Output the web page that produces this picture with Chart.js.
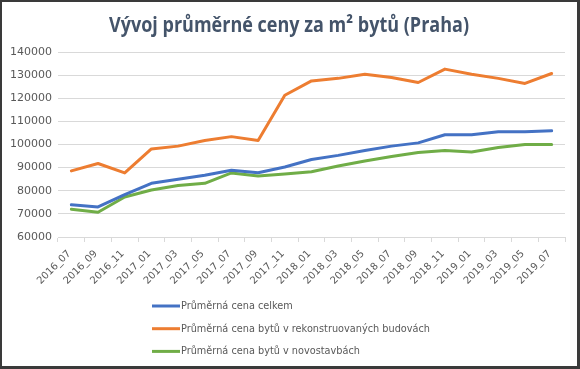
<!DOCTYPE html>
<html>
<head>
<meta charset="utf-8">
<script src="https://cdn.jsdelivr.net/npm/chart.js@4/dist/chart.umd.min.js"></script>
<style>
  html, body { margin: 0; padding: 0; background: #fff; }
  #wrap { position: relative; width: 580px; height: 369px; }
  #frame { position: absolute; left: 0; top: 0; width: 580px; height: 369px; box-sizing: border-box; border: 2px solid #3a3a3a; border-right-width: 3px; border-bottom-width: 3px; pointer-events: none; }
</style>
</head>
<body>
<div id="wrap">
  <canvas id="c" width="580" height="369"></canvas>
  <div id="frame"></div>
</div>
<script>
const chartTitle = "Vývoj průměrné ceny za m² bytů (Praha)";
const categories = ["2016_07","2016_09","2016_11","2017_01","2017_03","2017_05","2017_07","2017_09","2017_11",
  "2018_01","2018_03","2018_05","2018_07","2018_09","2018_11","2019_01","2019_03","2019_05","2019_07"];
const seriesNames = ["Průměrná cena celkem", "Průměrná cena bytů v rekonstruovaných budovách", "Průměrná cena bytů v novostavbách"];
const celkem = [73900, 73000, 78300, 83200, 85000, 86700, 88900, 87800, 90300,
  93500, 95300, 97400, 99300, 100700, 104200, 104200, 105500, 105500, 105900];
const rekonstrukce = [88600, 91800, 87700, 98100, 99300, 101700, 103400, 101700, 121300,
  127500, 128600, 130400, 129000, 126800, 132600, 130400, 128600, 126400, 130700];
const novostavby = [72000, 70700, 77300, 80300, 82300, 83200, 87700, 86400, 87200,
  88200, 90700, 92900, 94800, 96500, 97400, 96800, 98700, 100000, 100000];
const yTicks = [60000, 70000, 80000, 90000, 100000, 110000, 120000, 130000, 140000];
const colors = ["#4472C4", "#ED7D31", "#70AD47"];

const titlePlugin = {
  id: 'customTitle',
  afterDraw(chart) {
    const ctx = chart.ctx;
    ctx.save();
    ctx.font = 'bold 21px "Open Sans"';
    ctx.fillStyle = '#44546A';
    ctx.textAlign = 'center';
    ctx.textBaseline = 'alphabetic';
    const w = ctx.measureText(chartTitle).width;
    const sx = 360 / w;
    ctx.translate(289, 32);
    ctx.scale(sx, 1);
    ctx.fillText(chartTitle, 0, 0);
    ctx.restore();
  }
};

const legendPlugin = {
  id: 'customLegend',
  afterDraw(chart) {
    const ctx = chart.ctx;
    ctx.save();
    ctx.font = '11px "DejaVu Sans"';
    ctx.fillStyle = '#595959';
    ctx.textBaseline = 'middle';
    const longest = ctx.measureText(seriesNames[1]).width;
    const sx = 249 / longest;
    chart.data.datasets.forEach((ds, i) => {
      const y = 306 + i * 22.7;
      ctx.strokeStyle = ds.borderColor;
      ctx.lineWidth = 3;
      ctx.beginPath();
      ctx.moveTo(152, y);
      ctx.lineTo(180, y);
      ctx.stroke();
      ctx.save();
      ctx.translate(181, y);
      ctx.scale(sx, 1);
      ctx.fillText(ds.label, 0, 0);
      ctx.restore();
    });
    ctx.restore();
  }
};

new Chart(document.getElementById('c'), {
  type: 'line',
  data: {
    labels: categories,
    datasets: [
      { label: seriesNames[0], data: celkem, borderColor: colors[0], backgroundColor: colors[0] },
      { label: seriesNames[1], data: rekonstrukce, borderColor: colors[1], backgroundColor: colors[1] },
      { label: seriesNames[2], data: novostavby, borderColor: colors[2], backgroundColor: colors[2] }
    ]
  },
  options: {
    responsive: false,
    animation: false,
    layout: { padding: { left: 0, right: 15, top: 52, bottom: 80 } },
    elements: {
      line: { borderWidth: 3, tension: 0, borderCapStyle: 'round', borderJoinStyle: 'round' },
      point: { radius: 0 }
    },
    plugins: {
      legend: { display: false },
      title: { display: false },
      tooltip: { enabled: false }
    },
    scales: {
      x: {
        offset: true,
        grid: { display: true, drawOnChartArea: false, offset: true, color: '#D9D9D9', tickLength: 5 },
        border: { color: '#D9D9D9' },
        ticks: { color: '#595959', font: { family: 'DejaVu Sans', size: 10 }, minRotation: 45, maxRotation: 45, autoSkip: false, padding: 6, labelOffset: -2 },
        afterFit(scale) { scale.height = 52; }
      },
      y: {
        min: 60000, max: 140000,
        afterBuildTicks(scale) { scale.ticks = yTicks.map(v => ({ value: v })); },
        grid: { color: '#D9D9D9', drawTicks: false },
        border: { display: false },
        ticks: { color: '#595959', font: { family: 'DejaVu Sans', size: 11 }, padding: 6, callback: v => String(v) },
        afterFit(scale) { scale.width = 58; }
      }
    }
  },
  plugins: [titlePlugin, legendPlugin]
});
</script>
</body>
</html>
